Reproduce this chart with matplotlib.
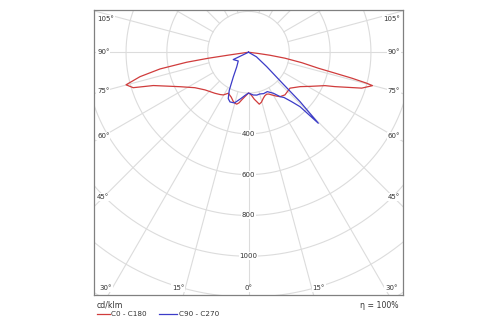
import numpy as np
import matplotlib.pyplot as plt
from matplotlib.lines import Line2D

# luminous intensity, cd/klm; negative angle = C180 / C270 half
red_deg = [-90, -82, -81.8, -81.5, -80.8, -79.3, -77.3, -75.1, -72.9, -70.7, -63.3,
           -56.5, -49.1, -39.3, -34, -30.5, -26.2, -21, -17.1, -14.5, -12.8, -10.5,
           -8.1, -5, -2.4, 0, 2.2, 4.5, 7, 9.4, 11.7, 14.5, 17.8, 20.5, 23.4, 26,
           28.5, 32, 35.4, 40.5, 45, 49.1, 56.3, 61, 66.4, 68.3, 72.4, 74.9,
           75.3, 75.9, 76.4, 77.1, 78.9, 80.7, 82, 82.8, 90]
red_cd = [0, 40, 100, 199, 307, 441, 545, 621, 591, 494, 376,
          315, 282, 260, 250, 243, 224, 236, 253, 259, 261, 252,
          236, 220, 209, 200, 204, 215, 232, 245, 260, 253, 237, 228, 224, 228,
          238, 253, 267, 275, 271, 269, 304, 345, 409, 456, 582, 629,
          599, 522, 436, 351, 266, 181, 106, 47, 0]

blue_deg = [-90, -64.3, -49.5, -38.8, -31.6, -26.8, -23.6, -20.4, -15.5, -9.3, -4.5, 0,
            6.4, 11, 15.4, 20, 25.5, 31.2, 35.4, 38.1, 41, 43.4, 44.5, 46.2, 47.4,
            51.6, 60, 90]
blue_cd = [0, 83, 66, 92, 142, 209, 248, 260, 258, 230, 212, 200,
           211, 214, 212, 216, 214, 235, 267, 282, 320, 367, 488, 350, 232,
           114, 45, 0]

ring_values = [200, 400, 600, 800, 1000, 1200, 1400, 1600]
ring_labels = [400, 600, 800, 1000]
side_angles = [105, 90, 75, 60, 45]
bottom_angles = [-30, -15, 0, 15, 30]

GRID = '#dcdcdc'
TXT = '#333333'
RED = '#d03c3c'
BLUE = '#3c3cc8'


def to_xy(deg, cd):
    a = np.radians(np.asarray(deg, dtype=float))
    cd = np.asarray(cd, dtype=float)
    return cd * np.sin(a), -cd * np.cos(a)


fig = plt.figure(figsize=(5, 3.25), dpi=100)
ax = fig.add_axes([94 / 500, 30 / 325, 309 / 500, 285 / 325])
ax.set_xlim(-757, 757)
ax.set_ylim(-1190, 207)
ax.set_xticks([])
ax.set_yticks([])
for s in ax.spines.values():
    s.set_color('#808080')
    s.set_linewidth(0.9)

# polar grid
t = np.linspace(0, 2 * np.pi, 400)
for r in ring_values:
    ax.plot(r * np.sin(t), r * np.cos(t), color=GRID, lw=0.8, zorder=1)
for a in range(0, 360, 15):
    x, y = to_xy([a, a], [200, 2500])
    ax.plot(x, y, color=GRID, lw=0.8, zorder=1)

lbl = dict(fontsize=5.0, color=TXT, zorder=3,
           bbox=dict(facecolor='white', edgecolor='none', pad=0.6))

for r in ring_labels:
    ax.text(0, -r, str(r), ha='center', va='center', **lbl)

for a in side_angles:
    y = -710 / np.tan(np.radians(a))
    y = min(y, 165)
    ax.text(-742, y, f'{a}°', ha='left', va='center', **lbl)
    ax.text(742, y, f'{a}°', ha='right', va='center', **lbl)

for a in bottom_angles:
    x = 1155 * np.tan(np.radians(a)) + np.sign(a) * 34
    ax.text(x, -1155, f'{abs(a)}°', ha='center', va='center', **lbl)

# intensity curves
x, y = to_xy(red_deg, red_cd)
ax.plot(x, y, color=RED, lw=0.9, zorder=4)
x, y = to_xy(blue_deg, blue_cd)
ax.plot(x, y, color=BLUE, lw=0.9, zorder=5)

# footer
fig.text(97 / 500, 1 - 305 / 325, 'cd/klm', fontsize=5.6, color=TXT, va='center')
fig.text(398 / 500, 1 - 305 / 325, 'η = 100%', fontsize=5.6, color=TXT,
         va='center', ha='right')
ly = 1 - 314 / 325
fig.add_artist(Line2D([97 / 500, 110 / 500], [ly, ly], color=RED, lw=0.9))
fig.text(111 / 500, ly, 'C0 - C180', fontsize=5.2, color=TXT, va='center')
fig.add_artist(Line2D([159 / 500, 177 / 500], [ly, ly], color=BLUE, lw=0.9))
fig.text(179 / 500, ly, 'C90 - C270', fontsize=5.2, color=TXT, va='center')

fig.savefig('out.png', dpi=100, facecolor='white')
